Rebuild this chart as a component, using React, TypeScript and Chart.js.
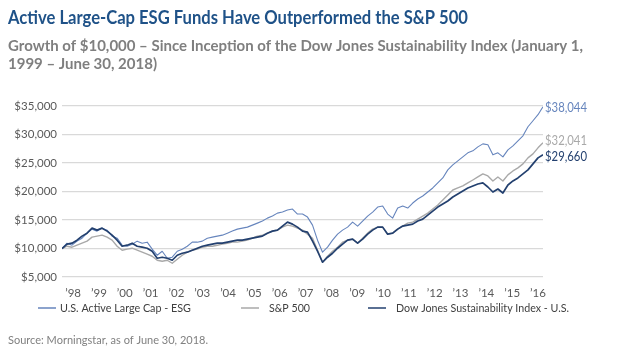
import React, { useEffect, useRef } from "react";
import { Chart, registerables } from "chart.js";

Chart.register(...registerables);

const TITLE = "Active Large-Cap ESG Funds Have Outperformed the S&P 500";
const SUBTITLE_1 = "Growth of $10,000 – Since Inception of the Dow Jones Sustainability Index (January 1,";
const SUBTITLE_2 = "1999 – June 30, 2018)";
const SOURCE = "Source: Morningstar, as of June 30, 2018.";

const TICK_LABELS = [
  "’98", "’99", "’00", "’01", "’02", "’03", "’04", "’05", "’06", "’07",
  "’08", "’09", "’10", "’11", "’12", "’13", "’14", "’15", "’16",
];
const Y_TICKS = [5000, 10000, 15000, 20000, 25000, 30000, 35000];

const SERIES_NAMES = [
  "U.S. Active Large Cap - ESG",
  "S&P 500",
  "Dow Jones Sustainability Index - U.S.",
];
const END_LABELS = ["$38,044", "$32,041", "$29,660"];

// time position (in years relative to the '98 tick) of the first sample and sampling step
const X_START = -0.43;
const X_STEP = 0.194;

const ESG = [
  10000, 10930, 10580, 11290, 11810, 12690, 13400, 13050, 13570, 13220,
  12170, 11810, 10580, 10400, 10760, 11290, 10930, 11110, 9880, 8820,
  9520, 8290, 8470, 9520, 9880, 10400, 11110, 11110, 11290, 11810,
  11990, 12170, 12340, 12690, 13050, 13400, 13570, 13750, 14100, 14450,
  14810, 15330, 15690, 16210, 16390, 16740, 16920, 16040, 16040, 15510,
  14100, 11460, 9350, 10230, 11460, 12520, 13220, 13750, 14630, 13930,
  14810, 15690, 16390, 17270, 17450, 16040, 15330, 17100, 17450, 17100,
  17980, 18680, 19210, 19910, 20620, 21500, 22380, 23790, 24670, 25370,
  26070, 26780, 27130, 27830, 28360, 28190, 26430, 26780, 26070, 27310,
  28010, 28890, 29770, 31360, 32410, 33470, 34880,
];

const SP500 = [
  10000, 10400, 10230, 10580, 10930, 11290, 11990, 12170, 12340, 11990,
  11460, 10400, 9700, 9880, 10050, 9700, 9350, 9000, 8640, 7940,
  7760, 7940, 7410, 8120, 8820, 9350, 9700, 9880, 10230, 10400,
  10400, 10580, 10760, 10930, 11110, 11110, 11290, 11460, 11810, 12170,
  12340, 12690, 13050, 13220, 13750, 14100, 13930, 13570, 13220, 12520,
  11810, 9700, 7590, 8640, 9520, 10230, 11110, 11460, 11640, 10930,
  11810, 12690, 13400, 13750, 13750, 12520, 12690, 13400, 13930, 14450,
  14630, 15160, 15690, 16210, 16920, 17620, 18500, 19380, 20260, 20620,
  20970, 21500, 22020, 22550, 23080, 22730, 21850, 22550, 21850, 22910,
  23610, 24140, 24840, 25900, 26600, 27660, 28540,
];

const DJSI = [
  10000, 10760, 10930, 11460, 12170, 12690, 13570, 13220, 13570, 13050,
  12340, 11460, 10400, 10580, 10930, 10400, 10230, 10050, 9520, 8290,
  8470, 8290, 7940, 8820, 9170, 9350, 9700, 10050, 10400, 10580,
  10760, 10930, 10930, 11110, 11290, 11460, 11460, 11640, 11810, 11990,
  12170, 12690, 13050, 13220, 13930, 14630, 14280, 13750, 13050, 12870,
  11290, 9520, 7590, 8470, 9170, 10050, 10760, 11460, 11640, 10930,
  11640, 12520, 13220, 13750, 13750, 12520, 12690, 13400, 13930, 14100,
  14280, 14810, 15160, 15860, 16570, 17270, 17800, 18330, 19030, 19560,
  20090, 20620, 20970, 21320, 21500, 20790, 19910, 20440, 19740, 21140,
  21850, 22380, 23080, 23790, 24840, 25900, 26430,
];

const COLORS = ["#6685BD", "#A9A9A9", "#23406F"];
const WIDTHS = [1.1, 1.4, 1.7];

function drawFit(
  ctx: CanvasRenderingContext2D,
  text: string,
  x: number,
  y: number,
  font: string,
  color: string,
  width?: number,
  sxIn?: number
): number {
  ctx.font = font;
  ctx.fillStyle = color;
  const w = ctx.measureText(text).width;
  const sx = sxIn !== undefined ? sxIn : width ? width / w : 1;
  ctx.save();
  ctx.translate(x, y);
  ctx.scale(sx, 1);
  ctx.textAlign = "left";
  ctx.textBaseline = "middle";
  ctx.fillText(text, 0, 0);
  ctx.restore();
  return sx;
}

const decor = {
  id: "decor",
  afterDraw(chart: any) {
    const ctx: CanvasRenderingContext2D = chart.ctx;
    ctx.save();
    drawFit(ctx, TITLE, 8, 18, "bold 19px Lato", "#1F5288", 460);
    const s = drawFit(ctx, SUBTITLE_1, 8, 46, "bold 15px Lato", "#7F7F7F", 575);
    drawFit(ctx, SUBTITLE_2, 8, 64, "bold 15px Lato", "#7F7F7F", undefined, s);

    // end labels
    const xs = chart.scales.x;
    const ys = chart.scales.y;
    const series = [ESG, SP500, DJSI];
    const offs = [1, -2, 2];
    series.forEach((arr, k) => {
      const px = xs.getPixelForValue(X_START + (arr.length - 1) * X_STEP) + 2;
      const py = ys.getPixelForValue(arr[arr.length - 1]) + offs[k];
      drawFit(ctx, END_LABELS[k], px, py, "12.5px Lato", COLORS[k], 42);
    });

    // legend
    const legendY = 308;
    const lineX = [38, 241, 368];
    const textX = [60, 269, 396];
    const textW = [131, 41, 173];
    for (let k = 0; k < 3; k++) {
      ctx.strokeStyle = COLORS[k];
      ctx.lineWidth = 1.5;
      ctx.beginPath();
      ctx.moveTo(lineX[k], legendY);
      ctx.lineTo(lineX[k] + 18, legendY);
      ctx.stroke();
      drawFit(ctx, SERIES_NAMES[k], textX[k], legendY, "12px Lato", "#404040", textW[k]);
    }

    drawFit(ctx, SOURCE, 8, 340, "11px Lato", "#808080", 200);
    ctx.restore();
  },
};

export default function App() {
  const ref = useRef<HTMLCanvasElement>(null);
  useEffect(() => {
    const toPts = (arr: number[]) => arr.map((v, i) => ({ x: X_START + i * X_STEP, y: v }));
    const xMax = X_START + (ESG.length - 1) * X_STEP;
    const chart = new Chart(ref.current as HTMLCanvasElement, {
      type: "line",
      data: {
        datasets: [
          { label: SERIES_NAMES[0], data: toPts(ESG), borderColor: COLORS[0], borderWidth: WIDTHS[0], order: 2 },
          { label: SERIES_NAMES[1], data: toPts(SP500), borderColor: COLORS[1], borderWidth: WIDTHS[1], order: 3 },
          { label: SERIES_NAMES[2], data: toPts(DJSI), borderColor: COLORS[2], borderWidth: WIDTHS[2], order: 1 },
        ],
      },
      options: {
        responsive: false,
        animation: false,
        devicePixelRatio: 1,
        layout: { padding: { top: 106, right: 88, bottom: 0, left: 0 } },
        elements: { point: { radius: 0 }, line: { tension: 0, borderJoinStyle: "round" } },
        plugins: { legend: { display: false }, tooltip: { enabled: false }, title: { display: false } },
        scales: {
          x: {
            type: "linear",
            min: X_START,
            max: xMax,
            grid: { display: false },
            border: { display: false },
            afterBuildTicks: (s: any) => {
              s.ticks = TICK_LABELS.map((_, k) => ({ value: k }));
            },
            afterFit: (s: any) => {
              s.height = 75;
            },
            ticks: {
              autoSkip: false,
              maxRotation: 0,
              minRotation: 0,
              padding: 1,
              color: "#595959",
              font: { family: "Lato", size: 11.5 },
              callback: (_v: any, i: number) => TICK_LABELS[i],
            },
          },
          y: {
            type: "linear",
            min: 5000,
            max: 35000,
            afterBuildTicks: (s: any) => {
              s.ticks = Y_TICKS.map((v) => ({ value: v }));
            },
            afterFit: (s: any) => {
              s.width = 62;
            },
            grid: { color: "#D9D9D9", drawTicks: false, lineWidth: 1.2 },
            border: { display: false },
            ticks: {
              padding: 5,
              color: "#595959",
              font: { family: "Lato", size: 11.5 },
              callback: (v: any) => "$" + Number(v).toLocaleString("en-US"),
            },
          },
        },
      },
      plugins: [decor],
    } as any);
    return () => chart.destroy();
  }, []);
  return (
    <div style={{ position: "absolute", left: 0, top: 0, width: 631, height: 352, background: "#fff" }}>
      <canvas ref={ref} width={631} height={352} style={{ display: "block" }} />
    </div>
  );
}
